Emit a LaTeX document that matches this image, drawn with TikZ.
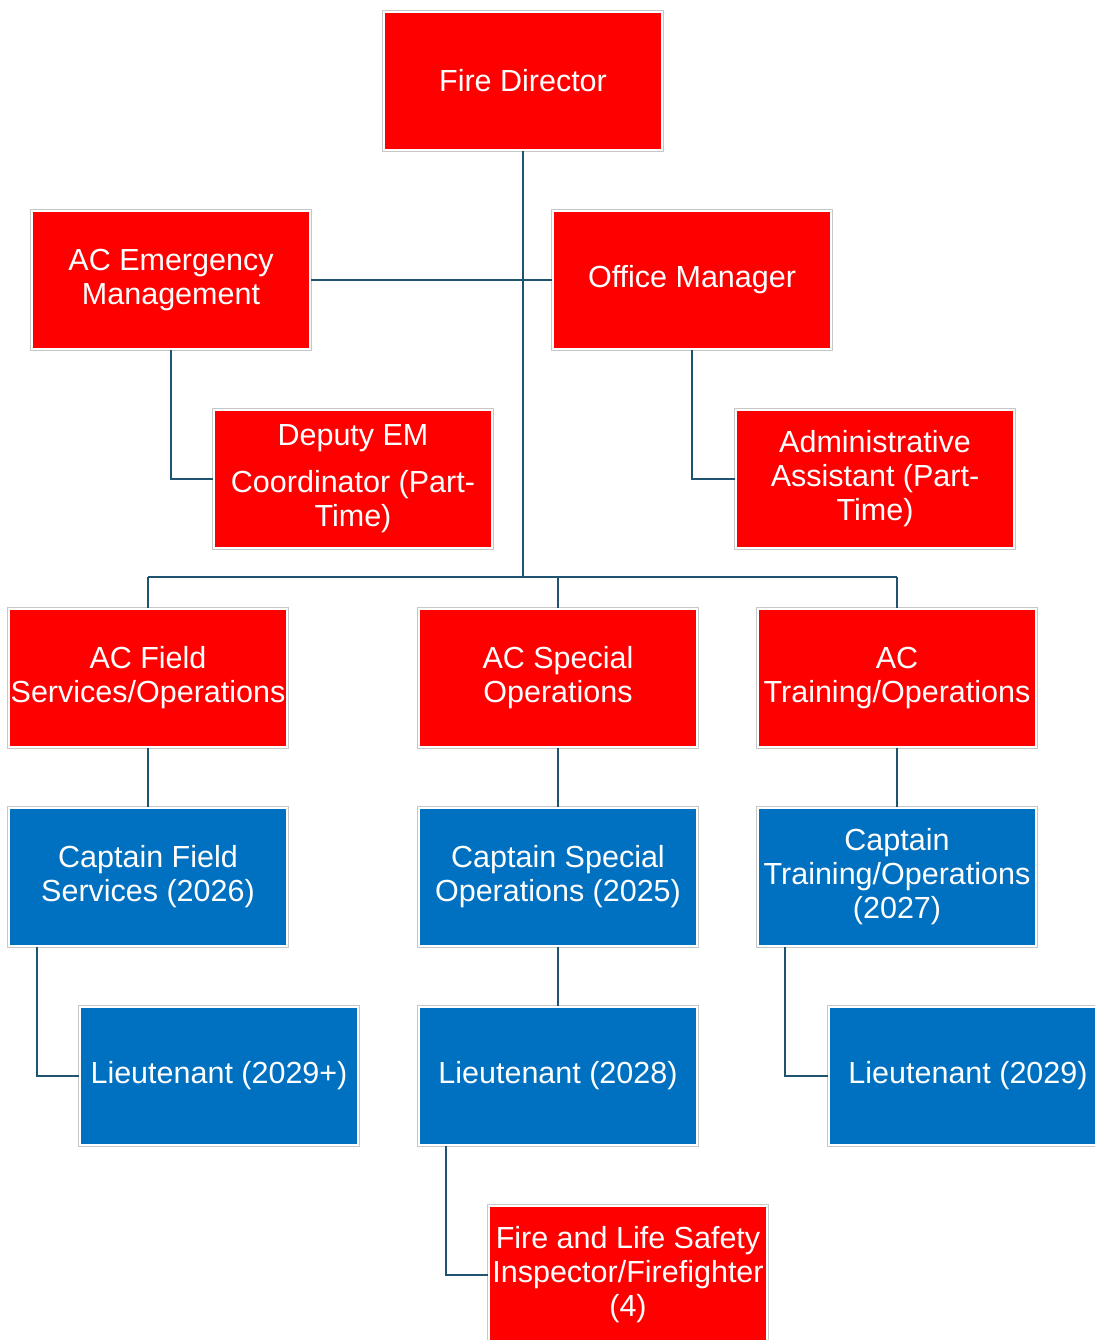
\documentclass[tikz,border=0pt]{standalone}
\usepackage{fontspec}
\setmainfont{Liberation Sans}
\usepackage{tikz}
\usetikzlibrary{positioning}

\definecolor{chartred}{RGB}{255,0,0}
\definecolor{chartblue}{RGB}{0,112,192}
\definecolor{linkteal}{RGB}{31,84,112}

\tikzset{
  box/.style={rectangle, draw=white, line width=2pt, text=white, align=center,
    minimum width=278pt, minimum height=138pt, inner sep=0pt,
    font=\fontsize{30.5}{34}\selectfont,
    preaction={draw=black!22, line width=4pt}},
  redbox/.style={box, fill=chartred},
  bluebox/.style={box, fill=chartblue},
  link/.style={draw=linkteal, line width=2.6pt}
}

\begin{document}
\begin{tikzpicture}[x=1pt,y=1pt,yscale=-1]
\useasboundingbox (0,0) rectangle (1094,1340);

% top of the chart
\node[redbox] (director) at (523,81) {Fire Director};
\node[redbox] (acem) at (171,280) {AC Emergency\\Management};
\node[redbox] (office) at (692,280) {Office Manager};
\node[redbox] (deputy) at (353,479) {Deputy EM\\[13pt]Coordinator (Part-\\Time)};
\node[redbox] (admin) at (875,479) {Administrative\\Assistant (Part-\\Time)};

% assistant chiefs
\node[redbox] (acfield) at (148,678) {AC Field\\Services/Operations};
\node[redbox] (acspec) at (558,678) {AC Special\\Operations};
\node[redbox] (actrain) at (897,678) {AC\\Training/Operations};

% captains
\node[bluebox] (capfield) at (148,877) {Captain Field\\Services (2026)};
\node[bluebox] (capspec) at (558,877) {Captain Special\\Operations (2025)};
\node[bluebox] (captrain) at (897,877) {Captain\\Training/Operations\\(2027)};

% lieutenants
\node[bluebox] (ltfield) at (219,1076) {Lieutenant (2029+)};
\node[bluebox] (ltspec) at (558,1076) {Lieutenant (2028)};
\node[bluebox] (lttrain) at (968,1076) {Lieutenant (2029)};

\node[redbox] (inspector) at (628,1275) {Fire and Life Safety\\Inspector/Firefighter\\(4)};

\coordinate (bus) at (523,577);

% connectors
\draw[link] (director.south) -- (bus);
\draw[link] (acem.east) -- (office.west);
\draw[link] (bus -| acfield.north) -- (bus -| actrain.north);
\foreach \n in {acfield,acspec,actrain}
  \draw[link] (bus -| \n.north) -- (\n.north);
\draw[link] (acem.south) |- (deputy.west);
\draw[link] (office.south) |- (admin.west);
\draw[link] (acfield.south) -- (capfield.north);
\draw[link] (acspec.south) -- (capspec.north);
\draw[link] (actrain.south) -- (captrain.north);
\draw[link] ([xshift=29pt]capfield.south west) |- (ltfield.west);
\draw[link] (capspec.south) -- (ltspec.north);
\draw[link] ([xshift=28pt]captrain.south west) |- (lttrain.west);
\draw[link] ([xshift=28pt]ltspec.south west) |- (inspector.west);

\end{tikzpicture}
\end{document}
